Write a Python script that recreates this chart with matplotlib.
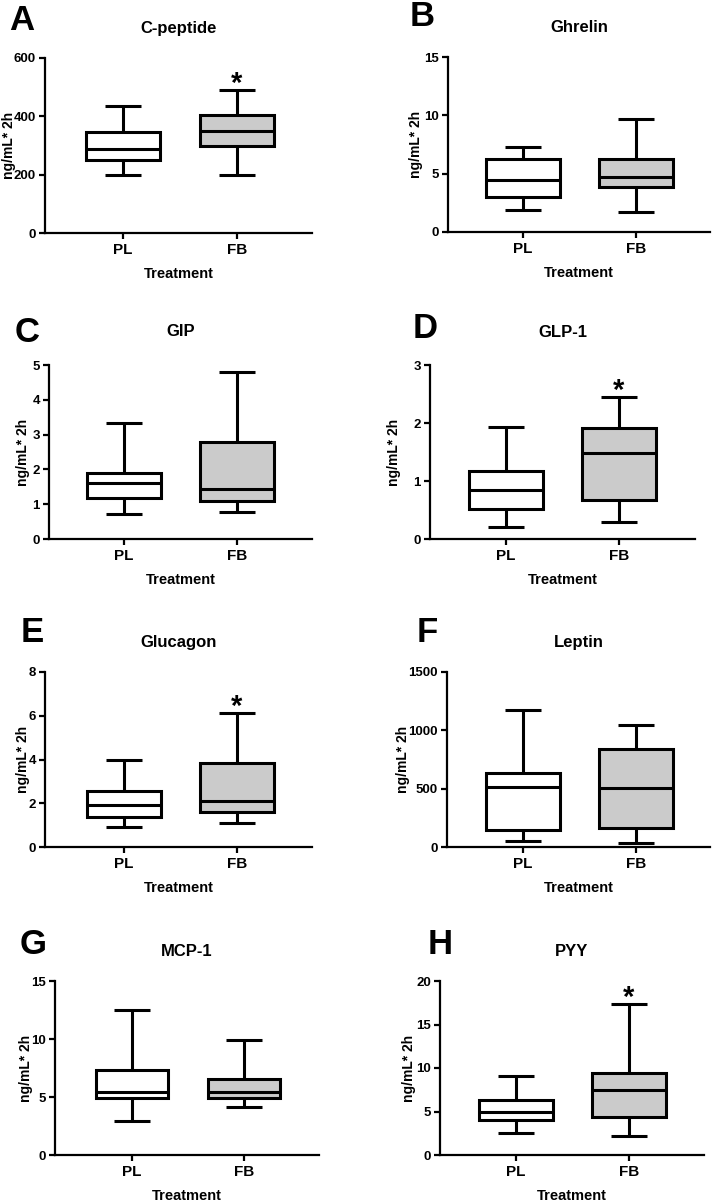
import matplotlib
matplotlib.use('Agg')
import matplotlib.pyplot as plt
from matplotlib.patches import PathPatch

plt.rcParams['font.family'] = ['Liberation Sans', 'DejaVu Sans']
plt.rcParams['font.weight'] = 'bold'
plt.rcParams['hatch.linewidth'] = 0.8

groups = ['PL', 'FB']
letters = ['A', 'B', 'C', 'D', 'E', 'F', 'G', 'H']
titles = ['C-peptide', 'Ghrelin', 'GIP', 'GLP-1', 'Glucagon', 'Leptin', 'MCP-1', 'PYY']
ylabel = 'ng/mL* 2h'
xlabel = 'Treatment'

# box stats: [whisker low, Q1, median, Q3, whisker high]
cpeptide_pl = [199, 249, 289, 346, 437]
cpeptide_fb = [200, 300, 349, 406, 490]
ghrelin_pl = [1.86, 3.01, 4.42, 6.22, 7.28]
ghrelin_fb = [1.72, 3.87, 4.73, 6.22, 9.66]
gip_pl = [0.73, 1.18, 1.62, 1.90, 3.32]
gip_fb = [0.78, 1.08, 1.45, 2.80, 4.79]
glp1_pl = [0.21, 0.52, 0.85, 1.17, 1.93]
glp1_fb = [0.30, 0.68, 1.48, 1.92, 2.44]
glucagon_pl = [0.90, 1.35, 1.94, 2.55, 3.98]
glucagon_fb = [1.12, 1.59, 2.12, 3.82, 6.12]
leptin_pl = [54, 148, 518, 638, 1176]
leptin_fb = [37, 162, 507, 837, 1050]
mcp1_pl = [2.95, 4.88, 5.39, 7.37, 12.47]
mcp1_fb = [4.13, 4.88, 5.39, 6.51, 9.95]
pyy_pl = [2.56, 4.02, 4.89, 6.31, 9.10]
pyy_fb = [2.18, 4.40, 7.50, 9.48, 17.32]

pl_data = [cpeptide_pl, ghrelin_pl, gip_pl, glp1_pl, glucagon_pl, leptin_pl, mcp1_pl, pyy_pl]
fb_data = [cpeptide_fb, ghrelin_fb, gip_fb, glp1_fb, glucagon_fb, leptin_fb, mcp1_fb, pyy_fb]
yticks = [[0, 200, 400, 600], [0, 5, 10, 15], [0, 1, 2, 3, 4, 5], [0, 1, 2, 3],
          [0, 2, 4, 6, 8], [0, 500, 1000, 1500], [0, 5, 10, 15], [0, 5, 10, 15, 20]]
significant = [True, False, False, True, True, False, False, True]

W, H = 714, 1204
# layout in pixels: left, right, top, bottom, pl_x, fb_x, title_y, letter_x, letter_y, ylabel_x
layout = [
    (45, 312, 58, 233, 123, 237, 29, 22, 20, 10),
    (448, 710, 57, 232, 523, 636, 28, 422, 17, 417),
    (49, 312, 365, 539, 124, 237, 332, 27, 333, 24),
    (430, 695, 365, 539, 506, 619, 333, 425, 328, 395),
    (45, 312, 672, 847, 124, 237, 643, 32, 632, 24),
    (447, 710, 672, 847, 523, 636, 643, 427, 632, 404),
    (55, 319, 981, 1155, 132, 244, 952, 33, 945, 27),
    (440, 704, 981, 1155, 516, 629, 952, 440, 945, 410),
]

fig = plt.figure(figsize=(W / 100, H / 100), dpi=100)

for i in range(8):
    l, r, t, b, px, fx, ty, lx, ly, ylx = layout[i]
    ax = fig.add_axes([l / W, 1 - b / H, (r - l) / W, (b - t) / H])
    d = fx - px
    stats = []
    for vals, name in ((pl_data[i], groups[0]), (fb_data[i], groups[1])):
        stats.append(dict(whislo=vals[0], q1=vals[1], med=vals[2], q3=vals[3],
                          whishi=vals[4], fliers=[], label=name))
    lw = 2.2
    res = ax.bxp(stats, positions=[1, 2], widths=0.65, capwidths=0.32,
                 patch_artist=True, showfliers=False,
                 boxprops=dict(linewidth=lw, edgecolor='black', facecolor='white'),
                 whiskerprops=dict(linewidth=lw, color='black', solid_capstyle='butt'),
                 capprops=dict(linewidth=lw, color='black', solid_capstyle='butt'),
                 medianprops=dict(linewidth=lw, color='black', solid_capstyle='butt'))
    fbbox = res['boxes'][1]
    fbbox.set_facecolor('#cbcbcb')
    fbbox.set_zorder(2)
    hatch = PathPatch(fbbox.get_path(), transform=fbbox.get_transform(),
                      facecolor='none', edgecolor='#a8a8a8',
                      hatch='++++++++++++++++++++++++++++++',
                      linewidth=0, zorder=2.1)
    ax.add_patch(hatch)
    for ln in res['medians'] + res['boxes']:
        ln.set_zorder(3)
    ax.set_xlim(1 - (px - l) / d, 2 + (r - fx) / d)
    ax.set_ylim(0, yticks[i][-1])
    ax.set_yticks(yticks[i])
    ax.set_xticks([1, 2])
    ax.set_xticklabels(groups)
    for s in ('top', 'right'):
        ax.spines[s].set_visible(False)
    for s in ('left', 'bottom'):
        ax.spines[s].set_linewidth(1.6)
    ax.tick_params(axis='both', width=1.6, length=4.5, pad=2)
    ax.tick_params(axis='y', labelsize=9.5)
    ax.tick_params(axis='x', labelsize=11, pad=3)
    for lab in ax.get_xticklabels() + ax.get_yticklabels():
        lab.set_fontweight('bold')
    ax.set_xlabel(xlabel, fontsize=10.5, fontweight='bold', labelpad=7)
    ax.set_ylabel(ylabel, fontsize=10, fontweight='bold')
    ax.yaxis.set_label_coords((ylx + 6 - l) / (r - l), 0.5)
    ax.patch.set_visible(False)
    fig.text((l + r) / 2 / W, 1 - ty / H, titles[i], ha='center', va='center',
             fontsize=12, fontweight='bold')
    fig.text(lx / W, 1 - ly / H, letters[i], ha='center', va='center',
             fontsize=25, fontweight='bold')
    if significant[i]:
        ax.annotate('*', xy=(2, fb_data[i][4]), xytext=(0, -1), textcoords='offset points',
                    ha='center', va='baseline', fontsize=21, fontweight='bold')

fig.savefig('out.png', dpi=100)
